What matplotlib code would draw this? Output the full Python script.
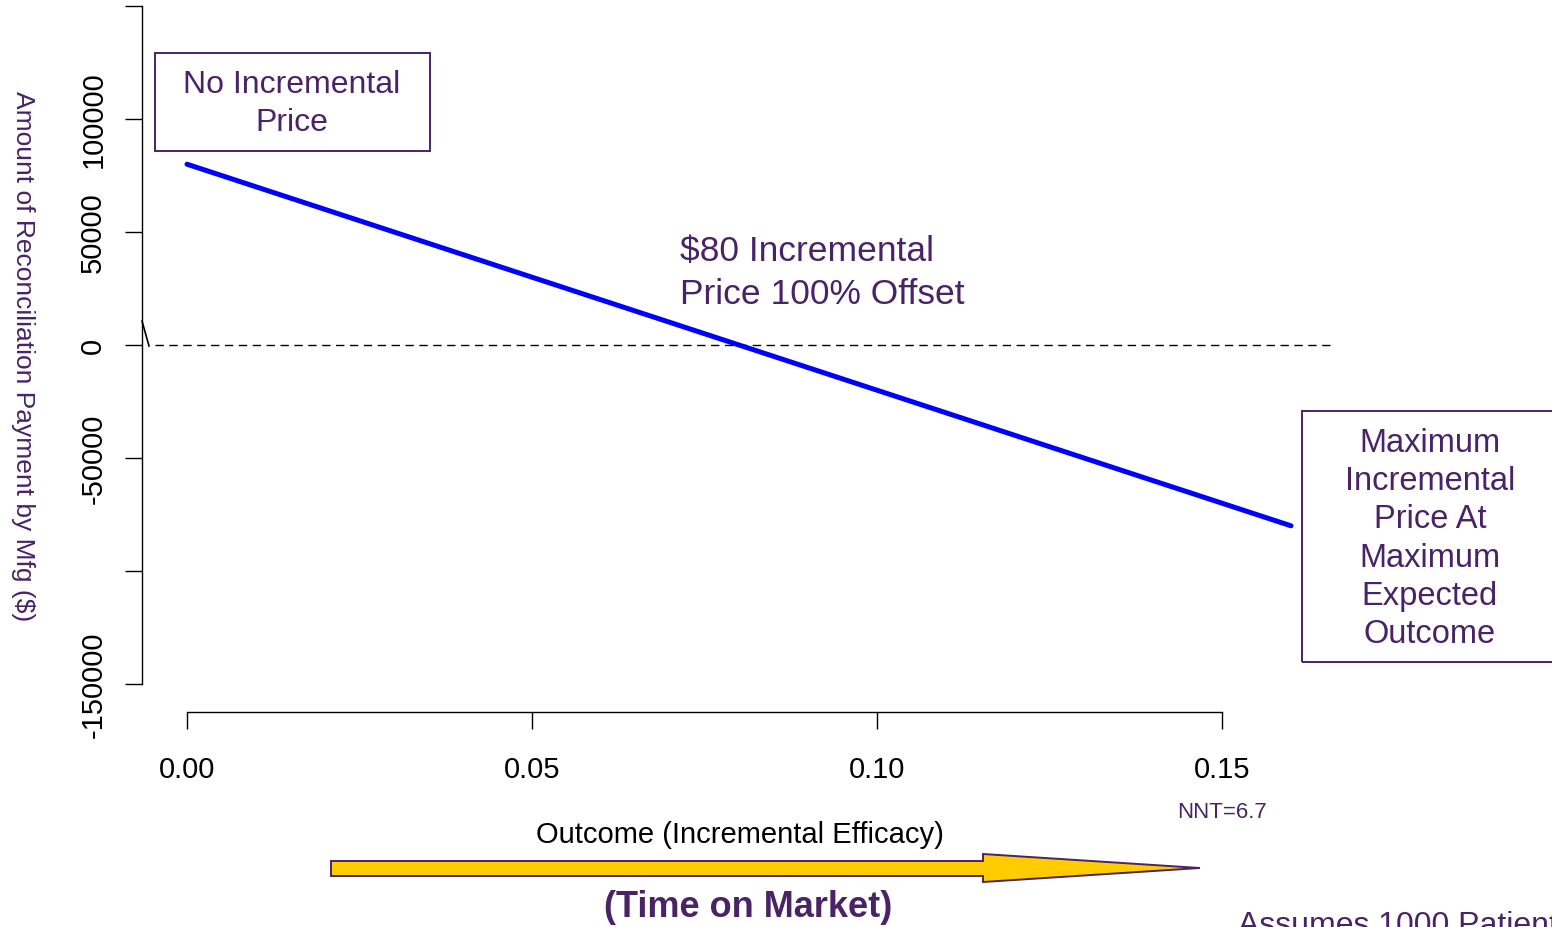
import matplotlib
matplotlib.use("Agg")
import matplotlib.pyplot as plt
import matplotlib.patches as mpatches
import numpy as np

plt.rcParams['font.family'] = ['Liberation Sans', 'DejaVu Sans']

# ---- data ----
outcome = [0.00, 0.01, 0.02, 0.03, 0.04, 0.05, 0.06, 0.07, 0.08,
           0.09, 0.10, 0.11, 0.12, 0.13, 0.14, 0.15, 0.16]
payment = [80000, 70000, 60000, 50000, 40000, 30000, 20000, 10000, 0,
           -10000, -20000, -30000, -40000, -50000, -60000, -70000, -80000]
xticks = [0.00, 0.05, 0.10, 0.15]
xtick_labels = ["0.00", "0.05", "0.10", "0.15"]
yticks = [-150000, -100000, -50000, 0, 50000, 100000, 150000]
ytick_labels = ["-150000", "", "-50000", "0", "50000", "100000", ""]

PURPLE = '#4A2366'
W, H = 1552, 928
fig = plt.figure(figsize=(W / 100, H / 100), dpi=100)

# pixel mapping: x px = 187 + 6900*x ; y px = 346 - 0.00226*y
def xd(px):
    return (px - 187) / 6900.0

def yd(py):
    return (346 - py) / 0.00226

ax_l, ax_b = 142, 713
ax = fig.add_axes([ax_l / W, (H - ax_b) / H, (W - ax_l) / W, ax_b / H])
ax.set_xlim(xd(ax_l), xd(W))
ax.set_ylim(yd(ax_b), yd(0))
ax.patch.set_alpha(0)

for s in ['top', 'right']:
    ax.spines[s].set_visible(False)
ax.spines['left'].set_bounds(-150000, 150000)
ax.spines['bottom'].set_bounds(0, 0.15)
ax.spines['left'].set_linewidth(1.0)
ax.spines['bottom'].set_linewidth(1.0)

ax.set_xticks(xticks)
ax.set_xticklabels(xtick_labels, fontsize=21)
ax.set_yticks(yticks)
ax.set_yticklabels(ytick_labels, fontsize=21, rotation=90, va='center')
ax.tick_params(axis='both', direction='out', length=12, width=1.0)
ax.tick_params(axis='x', pad=19)
ax.tick_params(axis='y', pad=13)

# main line
ax.plot(outcome, payment, color='#0000FF', lw=3.6, solid_capstyle='round',
        clip_on=False, zorder=3)

# zero dashed line
ax.plot([xd(155), xd(1335)], [0, 0], color='black', lw=1.0,
        ls=(0, (6, 4)), clip_on=False)

# axis break mark
ax.plot([xd(142), xd(149)], [yd(322), yd(347)], color='black', lw=1.2,
        clip_on=False)

# y label
fig.text(23 / W, 1 - 356 / H, "Amount of Reconciliation Payment by Mfg ($)",
         rotation=-90, ha='center', va='center', fontsize=19, color=PURPLE)

# boxes
def px_rect(x0, y0, x1, y1):
    return mpatches.Rectangle((x0 / W, 1 - y1 / H), (x1 - x0) / W, (y1 - y0) / H,
                              transform=fig.transFigure, fill=False,
                              edgecolor=PURPLE, lw=1.4)

fig.patches.append(px_rect(155, 54, 430, 152))
fig.text(292 / W, 1 - 104 / H, "No Incremental\nPrice", ha='center', va='center',
         fontsize=23, color=PURPLE, linespacing=1.33)

fig.patches.append(px_rect(1302, 412, 1560, 663))
fig.text(1430 / W, 1 - 539 / H,
         "Maximum\nIncremental\nPrice At\nMaximum\nExpected\nOutcome",
         ha='center', va='center', fontsize=23.5, color=PURPLE, linespacing=1.3)

ax.text(xd(680), yd(273), "$80 Incremental\nPrice 100% Offset", ha='left',
        va='center', fontsize=25.5, color=PURPLE, linespacing=1.42)

fig.text(1222 / W, 1 - 813 / H, "NNT=6.7", ha='center', va='center',
         fontsize=16, color=PURPLE)
fig.text(740 / W, 1 - 835 / H, "Outcome (Incremental Efficacy)", ha='center',
         va='center', fontsize=21, color='black')
fig.text(748 / W, 1 - 908 / H, "(Time on Market)", ha='center', va='center',
         fontsize=26, color=PURPLE, fontweight='bold')
fig.text(1238 / W, 1 - 911 / H, "Assumes 1000 Patients", ha='left', va='top',
         fontsize=23, color=PURPLE)

# arrow
arrow_px = [(331, 862), (983, 862), (983, 855), (1200, 869), (983, 883),
            (983, 877), (331, 877)]
arrow = mpatches.Polygon([(x / W, 1 - y / H) for x, y in arrow_px], closed=True,
                         transform=fig.transFigure, facecolor='#FFCC00',
                         edgecolor=PURPLE, lw=1.4)
fig.patches.append(arrow)

fig.savefig("out.png", dpi=100)
